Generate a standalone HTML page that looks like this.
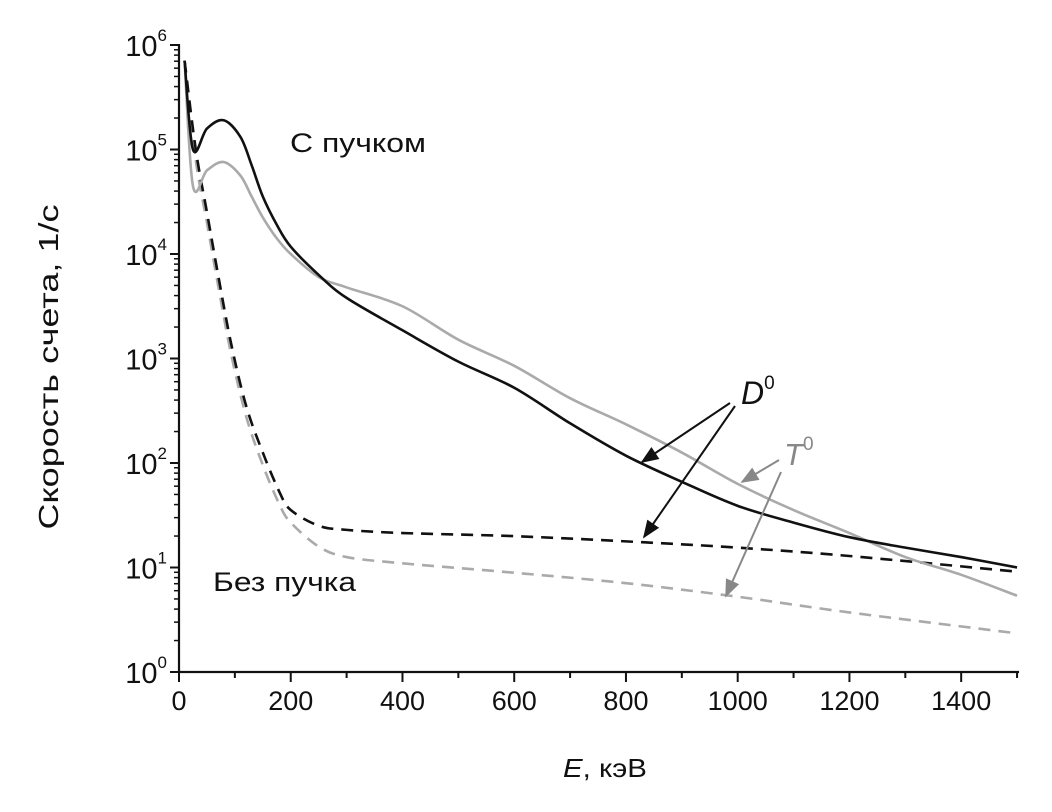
<!DOCTYPE html>
<html><head><meta charset="utf-8"><style>
body{margin:0;background:#fff;}
svg{display:block;font-family:"Liberation Sans","DejaVu Sans",sans-serif;}
</style></head><body>
<svg id="c" width="1052" height="812" viewBox="0 0 1052 812">
<defs>
<marker id="ab" viewBox="0 0 10 10" refX="9" refY="5" markerWidth="9" markerHeight="9" orient="auto"><path d="M0,1 L10,5 L0,9 z" fill="#111"/></marker>
<marker id="ag" viewBox="0 0 10 10" refX="9" refY="5" markerWidth="9" markerHeight="9" orient="auto"><path d="M0,1 L10,5 L0,9 z" fill="#888"/></marker>
</defs>
<g id="axes"></g>
<g id="series"></g>
<text x="290" y="152" font-size="27" textLength="136" lengthAdjust="spacingAndGlyphs" fill="#111">С пучком</text>
<text x="213" y="591" font-size="27" textLength="143" lengthAdjust="spacingAndGlyphs" fill="#111">Без пучка</text>
<text x="741" y="404" font-size="32" font-style="italic" fill="#111">D<tspan font-size="19" dy="-15" font-style="normal">0</tspan></text>
<text x="784" y="465" font-size="31" font-style="italic" fill="#888">T<tspan font-size="19" dy="-15" font-style="normal">0</tspan></text>
<line x1="730" y1="403" x2="642" y2="462" stroke="#111" stroke-width="2" marker-end="url(#ab)"/>
<line x1="735" y1="406" x2="644" y2="537" stroke="#111" stroke-width="2" marker-end="url(#ab)"/>
<line x1="779" y1="460" x2="742" y2="482" stroke="#888" stroke-width="2" marker-end="url(#ag)"/>
<line x1="781" y1="472" x2="726" y2="596" stroke="#888" stroke-width="2" marker-end="url(#ag)"/>
<text x="0" y="0" font-size="28" textLength="325" lengthAdjust="spacingAndGlyphs" fill="#111" text-anchor="middle" transform="translate(58,367) rotate(-90)">Скорость счета, 1/с</text>
<text x="563" y="777" font-size="26" textLength="84" lengthAdjust="spacingAndGlyphs" fill="#111"><tspan font-style="italic">E</tspan>, кэВ</text>
</svg>
<script>
const energyKeV=[10,25,50,80,93,130,150,200,250,300,400,500,600,700,800,900,1000,1100,1200,1300,1400,1500];
const xTicks=[0,200,400,600,800,1000,1200,1400];
const yDecades=[0,1,2,3,4,5,6];
const d0Beam=[[10,5.85],[25,5.0],[50,5.2],[80,5.28],[110,5.12],[130,4.85],[150,4.55],[175,4.28],[200,4.07],[250,3.8],[300,3.58],[400,3.27],[500,2.97],[600,2.72],[700,2.38],[800,2.07],[900,1.82],[1000,1.59],[1100,1.43],[1200,1.29],[1300,1.19],[1400,1.1],[1500,1.0]];
const t0Beam=[[10,5.85],[25,4.65],[50,4.8],[80,4.88],[110,4.75],[130,4.55],[150,4.35],[175,4.15],[200,4.0],[250,3.78],[300,3.68],[400,3.5],[500,3.18],[600,2.93],[700,2.62],[800,2.37],[900,2.1],[1000,1.8],[1100,1.55],[1200,1.33],[1300,1.1],[1400,0.93],[1500,0.73]];
const d0NoBeam=[[10,5.85],[30,5.0],[50,4.4],[70,3.8],[93,3.15],[120,2.55],[150,2.1],[180,1.72],[200,1.55],[250,1.4],[300,1.36],[400,1.33],[600,1.3],[800,1.25],[1000,1.19],[1200,1.11],[1500,0.96]];
const t0NoBeam=[[10,5.85],[30,4.9],[50,4.3],[70,3.7],[93,3.05],[120,2.45],[150,1.98],[180,1.6],[200,1.43],[250,1.2],[300,1.1],[400,1.04],[600,0.95],[800,0.85],[1000,0.72],[1200,0.57],[1500,0.37]];
const X0=179,XK=0.5587,Y0=672,YD=104.5;
const xs=e=>X0+e*XK, ys=l=>Y0-l*YD;
const NS='http://www.w3.org/2000/svg';
function mk(t,a,p){const e=document.createElementNS(NS,t);for(const k in a)e.setAttribute(k,a[k]);p.appendChild(e);return e;}
const ax=document.getElementById('axes');
const xl=mk('line',{x1:X0,y1:Y0,x2:xs(1500)+2,y2:Y0,stroke:'#111','stroke-width':2.2},ax);


const yl=mk('line',{x1:X0,y1:Y0+1,x2:X0,y2:ys(6)-1,stroke:'#111','stroke-width':2.2},ax);


for(let v=0;v<=1500;v+=100){const maj=v%200===0;const t=mk('line',{x1:xs(v),y1:Y0,x2:xs(v),y2:Y0+(maj?10:6),stroke:'#111','stroke-width':2},ax);

}
xTicks.forEach(v=>{const t=mk('text',{x:xs(v),y:Y0+38,'font-size':27,'text-anchor':'middle',fill:'#111'},ax);t.textContent=v;

});
yDecades.forEach(d=>{const t=mk('line',{x1:X0-9,y1:ys(d),x2:X0,y2:ys(d),stroke:'#111','stroke-width':2},ax);


if(d<6){for(let m=2;m<10;m++){const y=ys(d+Math.log10(m));const mt=mk('line',{x1:X0-5,y1:y,x2:X0,y2:y,stroke:'#111','stroke-width':1.5},ax);

}}
const l=mk('text',{x:X0-12,y:ys(d)+11,'font-size':29,'text-anchor':'end',fill:'#111'},ax);
l.innerHTML='10<tspan font-size="17" dy="-15">'+d+'</tspan>';

});
function path(pts){const p=pts.map(q=>[xs(q[0]),ys(q[1])]);let d='M'+p[0][0]+','+p[0][1];
for(let i=0;i<p.length-1;i++){const a=p[i-1]||p[i],b=p[i],c=p[i+1],e=p[i+2]||c;
d+=' C'+(b[0]+(c[0]-a[0])/6)+','+(b[1]+(c[1]-a[1])/6)+' '+(c[0]-(e[0]-b[0])/6)+','+(c[1]-(e[1]-b[1])/6)+' '+c[0]+','+c[1];}return d;}
const sg=document.getElementById('series');
[[t0NoBeam,'#aaa','12,8','t0-no-beam-line'],[d0NoBeam,'#111','12,8','d0-no-beam-line'],[t0Beam,'#aaa','','t0-beam-line'],[d0Beam,'#111','','d0-beam-line']].forEach(s=>{
const a={d:path(s[0]),fill:'none',stroke:s[1],'stroke-width':2.6};if(s[2])a['stroke-dasharray']=s[2];
const e=mk('path',a,sg);

});
</script>
</body></html>
